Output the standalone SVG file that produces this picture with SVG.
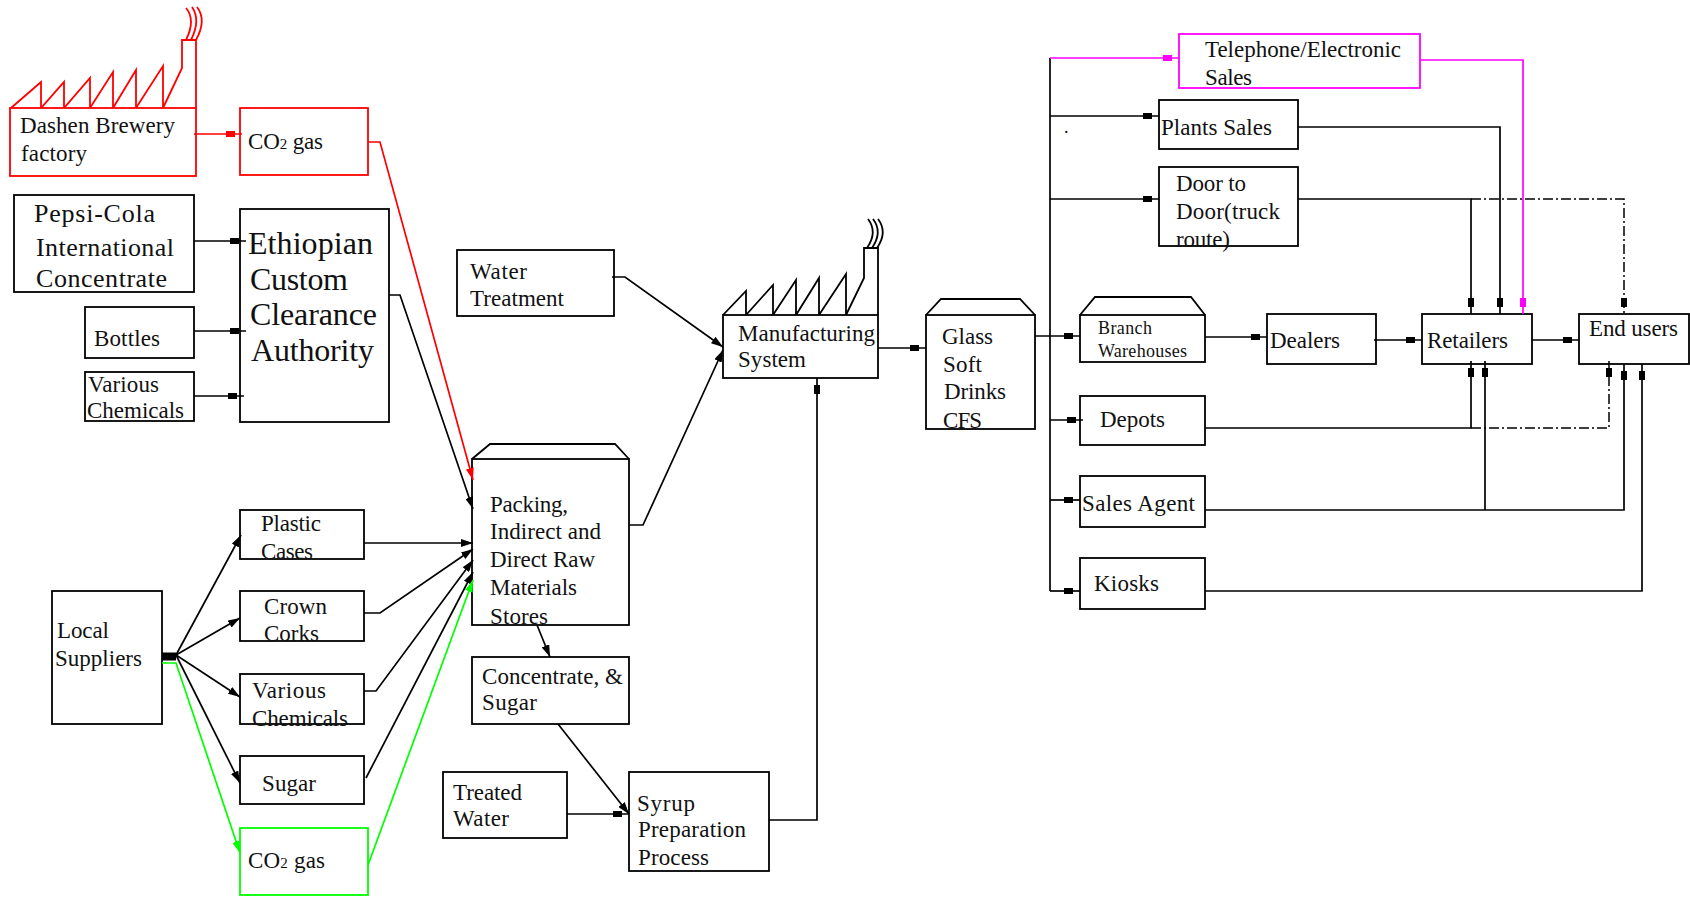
<svg xmlns="http://www.w3.org/2000/svg" width="1690" height="897" viewBox="0 0 1690 897">
<style>
rect,polyline.s,path.s{fill:#fff;stroke:#000;stroke-width:1.8}
.red rect,.red polyline.s,.red path.s{stroke:#f00}
.grn rect{stroke:#0f0}
.mag rect{stroke:#f0f}
#connectors polyline,#connectors path{fill:none;stroke:#000;stroke-width:1.7}
#connectors .r{stroke:#f00}
#connectors .g{stroke:#0f0}
#connectors .m{stroke:#f0f}
#connectors .d{stroke-dasharray:10 3 2 3;stroke-width:1.5}
text{font-family:"Liberation Serif","Times New Roman",serif;font-size:23px;fill:#111}
.big{font-size:32px}
.mid{font-size:26px}
.sm{font-size:18px}
.sub{font-size:15px}
path.smoke{fill:none}
</style>
<defs>
<marker id="sq" markerUnits="userSpaceOnUse" markerWidth="16" markerHeight="8" viewBox="0 0 16 8" refX="16" refY="4" orient="auto"><rect x="0" y="1" width="9" height="6" style="fill:#000;stroke:none"/></marker>
<marker id="sqR" markerUnits="userSpaceOnUse" markerWidth="16" markerHeight="8" viewBox="0 0 16 8" refX="16" refY="4" orient="auto"><rect x="0" y="1" width="9" height="6" style="fill:#f00;stroke:none"/></marker>
<marker id="sqM" markerUnits="userSpaceOnUse" markerWidth="16" markerHeight="8" viewBox="0 0 16 8" refX="16" refY="4" orient="auto"><rect x="0" y="1" width="9" height="6" style="fill:#f0f;stroke:none"/></marker>
<marker id="tri" markerUnits="userSpaceOnUse" markerWidth="12" markerHeight="8" viewBox="0 0 12 8" refX="12" refY="4" orient="auto"><path d="M0,0L12,4L0,8z" style="fill:#000;stroke:none"/></marker>
<marker id="triR" markerUnits="userSpaceOnUse" markerWidth="12" markerHeight="8" viewBox="0 0 12 8" refX="12" refY="4" orient="auto"><path d="M0,0L12,4L0,8z" style="fill:#f00;stroke:none"/></marker>
<marker id="triG" markerUnits="userSpaceOnUse" markerWidth="12" markerHeight="8" viewBox="0 0 12 8" refX="12" refY="4" orient="auto"><path d="M0,0L12,4L0,8z" style="fill:#0f0;stroke:none"/></marker>
</defs>
<g id="dashen" class="red">
<polyline class="s" style="fill:none" points="11,108 41,82 41,108 64,82 64,108 90,78 90,108 113,72 113,108 136,70 136,108 163,66 163,108 182,68 182,40 196,40 196,108"/>
<path class="s smoke" d="M186,8Q196,20 186,40M192,7Q201,20 191,40M197,7Q207,20 196,40"/>
<rect x="10" y="108" width="186" height="68"/>
<text x="20" y="133" textLength="155">Dashen Brewery</text>
<text x="21" y="161" textLength="66">factory</text>
</g>
<g id="co2-red" class="red">
<rect x="240" y="108" width="128" height="67"/>
<text x="248" y="149" textLength="75">CO<tspan class="sub">2</tspan> gas</text>
</g>
<g id="pepsi">
<rect x="14" y="195" width="180" height="97"/>
<text class="mid" x="34" y="222" textLength="121">Pepsi-Cola</text>
<text class="mid" x="36" y="256" textLength="138">International</text>
<text class="mid" x="36" y="287" textLength="131">Concentrate</text>
</g>
<g id="bottles">
<rect x="85" y="307" width="109" height="51"/>
<text x="94" y="346" textLength="66">Bottles</text>
</g>
<g id="chem-top">
<rect x="85" y="372" width="109" height="49"/>
<text x="88" y="392" textLength="71">Various</text>
<text x="87" y="418" textLength="97">Chemicals</text>
</g>
<g id="ethiopian">
<rect x="240" y="209" width="149" height="213"/>
<text class="big" x="248" y="254" textLength="125">Ethiopian</text>
<text class="big" x="250" y="290" textLength="98">Custom</text>
<text class="big" x="250" y="325" textLength="127">Clearance</text>
<text class="big" x="251" y="361" textLength="123">Authority</text>
</g>
<g id="local">
<rect x="52" y="591" width="110" height="133"/>
<text x="57" y="638" textLength="52">Local</text>
<text x="55" y="666" textLength="87">Suppliers</text>
</g>
<g id="plastic">
<rect x="240" y="510" width="124" height="49"/>
<text x="261" y="531" textLength="60">Plastic</text>
<text x="261" y="559" textLength="52">Cases</text>
</g>
<g id="crown">
<rect x="240" y="591" width="124" height="50"/>
<text x="264" y="614" textLength="63">Crown</text>
<text x="264" y="641" textLength="55">Corks</text>
</g>
<g id="chem-local">
<rect x="240" y="674" width="124" height="50"/>
<text x="252" y="698" textLength="74">Various</text>
<text x="252" y="726" textLength="96">Chemicals</text>
</g>
<g id="sugar">
<rect x="240" y="756" width="124" height="48"/>
<text x="262" y="791" textLength="54">Sugar</text>
</g>
<g id="co2-green" class="grn">
<rect x="240" y="828" width="128" height="67"/>
<text x="248" y="868" textLength="77">CO<tspan class="sub">2</tspan> gas</text>
</g>
<g id="stores">
<path class="s" d="M472,459L490,444H615L629,459"/>
<rect x="472" y="459" width="157" height="166"/>
<text x="490" y="512" textLength="78">Packing,</text>
<text x="490" y="539" textLength="111">Indirect and</text>
<text x="490" y="567" textLength="105">Direct Raw</text>
<text x="490" y="595" textLength="87">Materials</text>
<text x="490" y="624" textLength="58">Stores</text>
</g>
<g id="water-treatment">
<rect x="457" y="250" width="157" height="66"/>
<text x="470" y="279" textLength="57">Water</text>
<text x="470" y="306" textLength="94">Treatment</text>
</g>
<g id="manufacturing">
<polyline class="s" style="fill:none" points="723,315 746,291 746,315 773,285 773,315 796,280 796,315 819,278 819,315 846,274 846,315 864,278 864,248 878,248 878,315"/>
<path class="s smoke" d="M868,219Q878,232 867,248M873,219Q883,232 872,248M878,219Q888,232 877,248"/>
<rect x="723" y="315" width="155" height="63"/>
<text x="738" y="341" textLength="137">Manufacturing</text>
<text x="738" y="367" textLength="68">System</text>
</g>
<g id="glass">
<path class="s" d="M926,315L941,299H1020L1035,315"/>
<rect x="926" y="315" width="109" height="114"/>
<text x="942" y="344" textLength="51">Glass</text>
<text x="943" y="372" textLength="39">Soft</text>
<text x="944" y="399" textLength="62">Drinks</text>
<text x="943" y="428" textLength="39">CFS</text>
</g>
<g id="concentrate">
<rect x="472" y="657" width="157" height="67"/>
<text x="482" y="684" textLength="141">Concentrate, &amp;</text>
<text x="482" y="710" textLength="55">Sugar</text>
</g>
<g id="treated">
<rect x="443" y="772" width="124" height="66"/>
<text x="453" y="800" textLength="69">Treated</text>
<text x="453" y="826" textLength="56">Water</text>
</g>
<g id="syrup">
<rect x="629" y="772" width="140" height="99"/>
<text x="637" y="811" textLength="58">Syrup</text>
<text x="638" y="837" textLength="108">Preparation</text>
<text x="638" y="865" textLength="71">Process</text>
</g>
<g id="telephone" class="mag">
<rect x="1179" y="34" width="241" height="54"/>
<text x="1205" y="57" textLength="196">Telephone/Electronic</text>
<text x="1205" y="85" textLength="47">Sales</text>
</g>
<g id="plants">
<rect x="1159" y="100" width="139" height="49"/>
<text x="1161" y="135" textLength="111">Plants Sales</text>
</g>
<text x="1064" y="133" class="sm">.</text>
<g id="door">
<rect x="1159" y="167" width="139" height="79"/>
<text x="1176" y="191" textLength="70">Door to</text>
<text x="1176" y="219" textLength="104">Door(truck</text>
<text x="1176" y="247" textLength="54">route)</text>
</g>
<g id="branch">
<path class="s" d="M1080,315L1095,297H1191L1205,315"/>
<rect x="1080" y="315" width="125" height="47"/>
<text class="sm" x="1098" y="334" textLength="54">Branch</text>
<text class="sm" x="1098" y="357" textLength="89">Warehouses</text>
</g>
<g id="dealers">
<rect x="1267" y="314" width="109" height="50"/>
<text x="1270" y="348" textLength="70">Dealers</text>
</g>
<g id="retailers">
<rect x="1422" y="314" width="110" height="50"/>
<text x="1427" y="348" textLength="81">Retailers</text>
</g>
<g id="endusers">
<rect x="1579" y="314" width="110" height="50"/>
<text x="1589" y="336" textLength="89">End users</text>
</g>
<g id="depots">
<rect x="1080" y="396" width="125" height="49"/>
<text x="1100" y="427" textLength="65">Depots</text>
</g>
<g id="sales-agent">
<rect x="1080" y="476" width="125" height="51"/>
<text x="1082" y="511" textLength="113">Sales Agent</text>
</g>
<g id="kiosks">
<rect x="1080" y="558" width="125" height="51"/>
<text x="1094" y="591" textLength="65">Kiosks</text>
</g>
<g id="connectors">
<polyline class="r" points="194,134 242,134" marker-end="url(#sqR)"/>
<polyline class="r" points="368,142 380,142 473,480" marker-end="url(#triR)"/>
<polyline points="194,241 246,241" marker-end="url(#sq)"/>
<polyline points="194,331 246,331" marker-end="url(#sq)"/>
<polyline points="194,396 244,396" marker-end="url(#sq)"/>
<polyline points="389,295 400,295 473,509" marker-end="url(#tri)"/>
<path d="M162,656.500H176" style="stroke-width:8"/>
<polyline points="176,655 241,535" marker-end="url(#tri)"/>
<polyline points="176,655 240,618" marker-end="url(#tri)"/>
<polyline points="176,655 240,697" marker-end="url(#tri)"/>
<polyline points="176,655 240,783" marker-end="url(#tri)"/>
<polyline class="g" points="162,663 176,663 240,853" marker-end="url(#triG)"/>
<polyline points="364,543 473,543" marker-end="url(#tri)"/>
<polyline points="364,613 380,613 473,549" marker-end="url(#tri)"/>
<polyline points="364,691 376,691 473,560" marker-end="url(#tri)"/>
<polyline points="366,778 473,572" marker-end="url(#tri)"/>
<polyline class="g" points="368,865 473,580" marker-end="url(#triG)"/>
<polyline points="612,277 625,277 723,347" marker-end="url(#tri)"/>
<polyline points="629,525 643,525 723,350" marker-end="url(#tri)"/>
<polyline points="537,625 550,657" marker-end="url(#tri)"/>
<polyline points="558,724 629,814" marker-end="url(#tri)"/>
<polyline points="567,814 629,814" marker-end="url(#sq)"/>
<polyline points="769,820 817,820 817,378" marker-end="url(#sq)"/>
<polyline points="878,348 926,348" marker-end="url(#sq)"/>
<polyline points="1035,336 1080,336" marker-end="url(#sq)"/>
<polyline points="1050,58 1050,591"/>
<polyline class="m" points="1050,58 1179,58" marker-end="url(#sqM)"/>
<polyline points="1050,116 1159,116" marker-end="url(#sq)"/>
<polyline points="1050,199 1159,199" marker-end="url(#sq)"/>
<polyline points="1050,420 1083,420" marker-end="url(#sq)"/>
<polyline points="1050,500 1080,500" marker-end="url(#sq)"/>
<polyline points="1050,591 1080,591" marker-end="url(#sq)"/>
<polyline class="m" points="1420,60 1523,60 1523,314" marker-end="url(#sqM)"/>
<polyline points="1298,127 1500,127 1500,314" marker-end="url(#sq)"/>
<polyline points="1298,199 1471,199 1471,314" marker-end="url(#sq)"/>
<polyline class="d" points="1471,199 1624,199 1624,314" marker-end="url(#sq)"/>
<polyline points="1205,337 1267,337" marker-end="url(#sq)"/>
<polyline points="1374,340 1422,340" marker-end="url(#sq)"/>
<polyline points="1532,340 1579,340" marker-end="url(#sq)"/>
<polyline points="1205,428 1471,428 1471,361" marker-end="url(#sq)"/>
<polyline class="d" points="1471,428 1609,428 1609,361" marker-end="url(#sq)"/>
<polyline points="1205,510 1624,510 1624,364" marker-end="url(#sq)"/>
<polyline points="1485,510 1485,361" marker-end="url(#sq)"/>
<polyline points="1205,591 1642,591 1642,364" marker-end="url(#sq)"/>
</g>
</svg>
